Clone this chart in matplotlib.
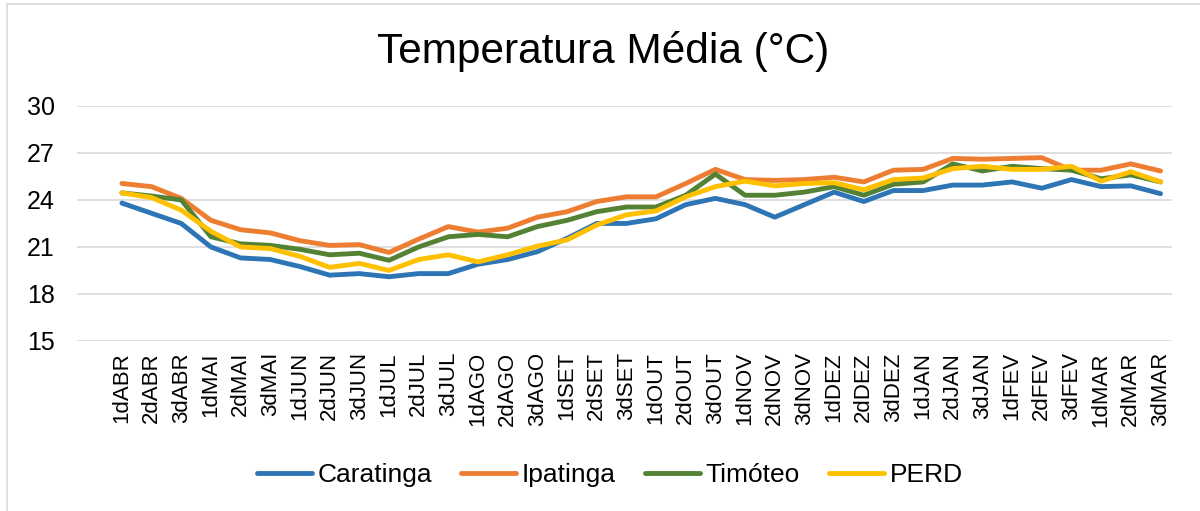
import matplotlib.pyplot as plt
from matplotlib.patches import Rectangle

plt.rcParams["font.family"] = ["Liberation Sans", "DejaVu Sans"]

# ten-day periods (decêndios), April to March
periods = ["1dABR", "2dABR", "3dABR", "1dMAI", "2dMAI", "3dMAI",
           "1dJUN", "2dJUN", "3dJUN", "1dJUL", "2dJUL", "3dJUL",
           "1dAGO", "2dAGO", "3dAGO", "1dSET", "2dSET", "3dSET",
           "1dOUT", "2dOUT", "3dOUT", "1dNOV", "2dNOV", "3dNOV",
           "1dDEZ", "2dDEZ", "3dDEZ", "1dJAN", "2dJAN", "3dJAN",
           "1dFEV", "2dFEV", "3dFEV", "1dMAR", "2dMAR", "3dMAR"]

caratinga = [23.8, 23.15, 22.5, 21.0, 20.3, 20.2, 19.75, 19.2, 19.3, 19.1, 19.3, 19.3,
             19.9, 20.2, 20.7, 21.55, 22.5, 22.5, 22.8, 23.7, 24.1, 23.7,
             22.9, 23.7, 24.5, 23.9, 24.6, 24.6, 24.95, 24.95, 25.15, 24.75,
             25.3, 24.85, 24.9, 24.4]
ipatinga = [25.05, 24.85, 24.1, 22.7, 22.1, 21.9, 21.4, 21.1, 21.15, 20.65, 21.5, 22.3,
            21.95, 22.2, 22.9, 23.25, 23.9, 24.2, 24.2, 25.05, 25.95, 25.3,
            25.25, 25.3, 25.45, 25.15, 25.9, 25.95, 26.65, 26.6, 26.65, 26.7,
            25.9, 25.9, 26.3, 25.85]
timoteo = [24.45, 24.25, 24.0, 21.65, 21.2, 21.1, 20.85, 20.5, 20.6, 20.15, 21.0, 21.65,
           21.8, 21.65, 22.3, 22.7, 23.25, 23.55, 23.55, 24.3, 25.65, 24.3,
           24.3, 24.5, 24.85, 24.3, 25.0, 25.15, 26.3, 25.85, 26.15, 26.0,
           25.9, 25.35, 25.6, 25.15]
perd = [24.45, 24.15, 23.35, 22.0, 21.0, 20.9, 20.4, 19.7, 19.95, 19.5, 20.2, 20.5,
        20.05, 20.5, 21.05, 21.45, 22.4, 23.05, 23.3, 24.2, 24.85, 25.2,
        24.9, 25.05, 25.1, 24.65, 25.3, 25.4, 26.0, 26.15, 25.95, 25.95,
        26.15, 25.2, 25.8, 25.15]

series = [("Caratinga", caratinga, "#2E75B6"),
          ("Ipatinga", ipatinga, "#ED7D31"),
          ("Timóteo", timoteo, "#548235"),
          ("PERD", perd, "#FFC000")]

fig = plt.figure(figsize=(12, 5.11), dpi=100)
ax = fig.add_axes([0.064, 0.3327, 0.913, 0.46])

# thin outer frame of the chart area
fig.patches.append(Rectangle((0.006, -0.05), 1.1, 1.042, transform=fig.transFigure,
                             fill=False, edgecolor="#D9D9D9", linewidth=1.2))

x = list(range(len(periods)))
for name, vals, color in series:
    ax.plot(x, vals, color=color, linewidth=3.5, label=name,
            solid_capstyle="round", solid_joinstyle="round")

ax.set_ylim(15, 30)
ax.set_yticks([15, 18, 21, 24, 27, 30])
ax.set_xlim(-1.52, 35.4)
ax.set_xticks(x)
ax.set_xticklabels(periods, rotation=90, fontsize=16)
ax.tick_params(axis="y", labelsize=18, length=0, pad=16)
ax.tick_params(axis="x", length=0, pad=8)
ax.grid(axis="y", color="#D9D9D9", linewidth=1.2)
ax.set_axisbelow(True)
for s in ax.spines.values():
    s.set_visible(False)

fig.text(0.503, 0.9, "Temperatura Média (°C)", ha="center", va="center", fontsize=30.5)

fig.legend(loc="center", bbox_to_anchor=(0.508, 0.07), ncol=4, frameon=False,
           fontsize=19, handlelength=2.1, handletextpad=0.2, columnspacing=1.1)

fig.savefig("out.png", dpi=100)
